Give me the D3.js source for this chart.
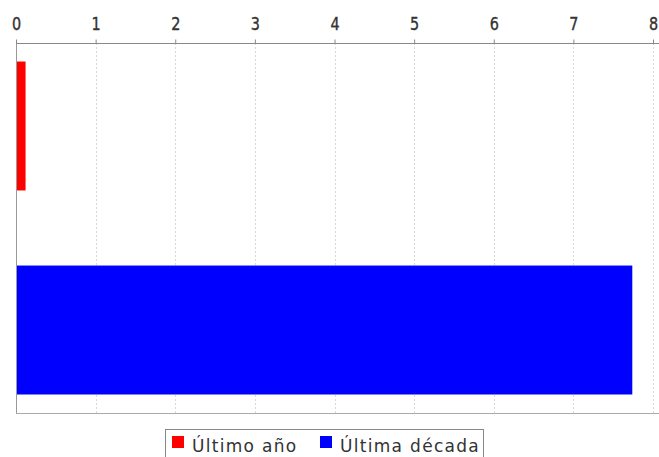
<!DOCTYPE html>
<html>
<head>
<meta charset="utf-8">
<script src="https://cdn.jsdelivr.net/npm/d3@7"></script>
<style>
body { margin: 0; background: #fff; }
text { font-family: "DejaVu Sans", sans-serif; fill: #333; }
</style>
</head>
<body>
<div class="root"></div>
<script>
var series = ["Último año", "Última década"];
var values = [0.12, 7.74];
var colors = ["#ff0000", "#0000ff"];
var ticks = [0, 1, 2, 3, 4, 5, 6, 7, 8];

var width = 659, height = 457;
var plotLeft = 16, plotRight = 653, plotTop = 43, plotBottom = 413;

var svg = d3.select(".root").append("svg")
  .attr("width", width)
  .attr("height", height);

var x = d3.scaleLinear().domain([0, 8]).range([plotLeft, plotRight]);
var y = d3.scaleBand().domain(series).range([plotTop, plotBottom])
  .paddingInner(0.368).paddingOuter(0.0907);

// grid
svg.append("g").selectAll("line")
  .data(ticks.slice(1))
  .enter().append("line")
  .attr("x1", function (d) { return Math.round(x(d)) + 0.5; })
  .attr("x2", function (d) { return Math.round(x(d)) + 0.5; })
  .attr("y1", plotTop).attr("y2", plotBottom)
  .attr("stroke", "#d8d8d8")
  .attr("stroke-dasharray", "2,2");

// bars
svg.append("g").selectAll("rect")
  .data(values)
  .enter().append("rect")
  .attr("x", x(0))
  .attr("y", function (d, i) { return y(series[i]); })
  .attr("width", function (d) { return x(d) - x(0); })
  .attr("height", y.bandwidth())
  .attr("fill", function (d, i) { return colors[i]; });

// bottom border + left axis line
svg.append("line")
  .attr("x1", plotLeft).attr("x2", width)
  .attr("y1", plotBottom + 0.5).attr("y2", plotBottom + 0.5)
  .attr("stroke", "#aaa");
svg.append("line")
  .attr("x1", plotLeft + 0.5).attr("x2", plotLeft + 0.5)
  .attr("y1", plotTop).attr("y2", plotBottom)
  .attr("stroke", "#999");

// top axis
var axis = d3.axisTop(x).tickValues(ticks).tickSize(4).tickPadding(10).tickSizeOuter(0);
var gx = svg.append("g")
  .attr("transform", "translate(0," + (plotTop + 0.5) + ")")
  .call(axis);
gx.select(".domain").attr("stroke", "#888").attr("d", "M" + plotLeft + ",0H" + width);
gx.selectAll(".tick line").attr("stroke", "#888");
gx.selectAll("text")
  .style("font-family", "'DejaVu Sans', sans-serif")
  .style("font-size", "18px")
  .attr("transform", "scale(0.8,1)")
  .attr("fill", "#333")
  .attr("stroke", "#333")
  .attr("stroke-width", 0.4);

// legend
var legend = svg.append("g");
legend.append("rect")
  .attr("x", 165.5).attr("y", 429.5)
  .attr("width", 318).attr("height", 40)
  .attr("fill", "#fff").attr("stroke", "#888");
var lx = [172, 320];
var items = legend.selectAll("g.item")
  .data(series)
  .enter().append("g")
  .attr("transform", function (d, i) { return "translate(" + lx[i] + ",0)"; });
items.append("rect")
  .attr("x", 0).attr("y", 436)
  .attr("width", 12).attr("height", 12)
  .attr("fill", function (d, i) { return colors[i]; });
items.append("text")
  .attr("x", 20).attr("y", 452)
  .style("font-size", "17px")
  .style("letter-spacing", "1.3px")
  .attr("fill", "#222")
  .text(function (d) { return d; });
</script>
</body>
</html>
